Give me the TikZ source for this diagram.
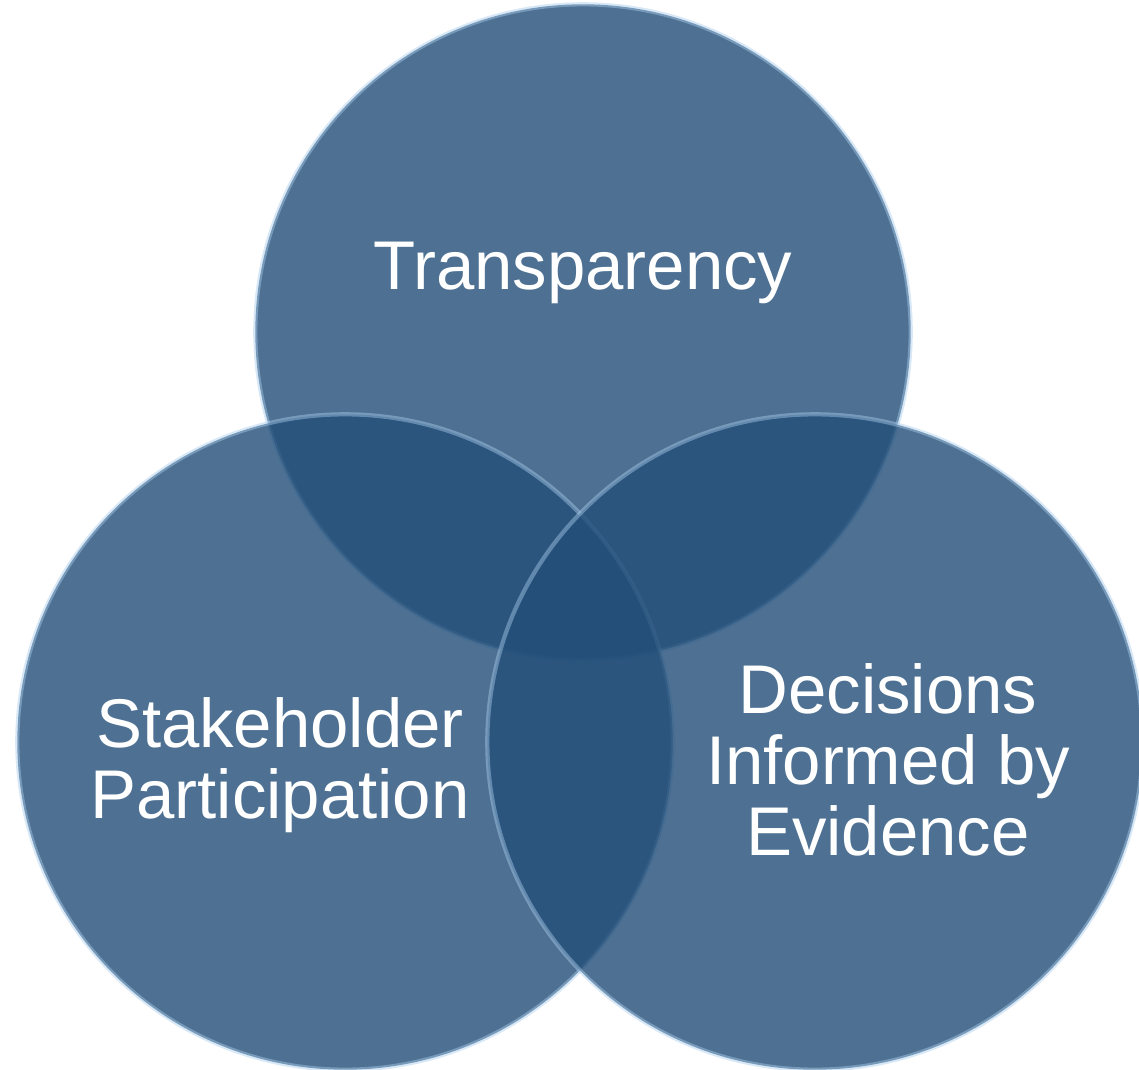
\documentclass[tikz,border=0pt]{standalone}
\usepackage{fontspec}
\setmainfont{Liberation Sans}
\definecolor{vennblue}{RGB}{34,78,120}
\definecolor{vennrim}{RGB}{170,205,235}
\begin{document}
\begin{tikzpicture}[x=0.01cm, y=-0.01cm,
  venn/.style={circle, inner sep=0pt, minimum size=6.55cm, fill=vennblue, fill opacity=0.8,
    draw=vennrim, draw opacity=0.45, line width=1.2pt},
  lbl/.style={text=white, align=center, font=\fontsize{19.6}{20.2}\selectfont}]
\useasboundingbox (0,0) rectangle (1139,1070);

\node[venn] (transp) at (583,332){};
\node[venn] (stake) at (345,742){};
\node[venn] (decis) at (815,742){};

\node[lbl] (transplbl) at (583,273){Transparency};
\node[lbl] (stakelbl) at (280,765){Stakeholder\\Participation};
\node[lbl] (decislbl) at (888,760){Decisions\\Informed by\\Evidence};
\end{tikzpicture}
\end{document}
